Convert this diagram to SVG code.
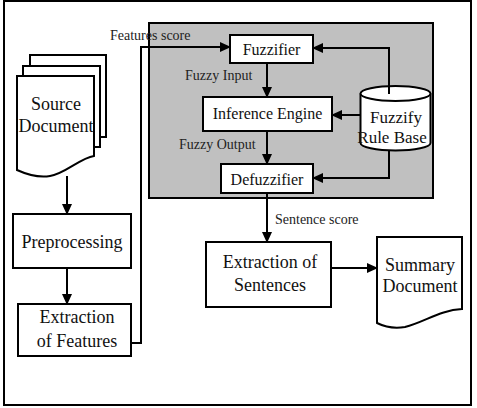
<svg xmlns="http://www.w3.org/2000/svg" width="477" height="408" viewBox="0 0 477 408">
<defs>
<marker id="ah" markerUnits="userSpaceOnUse" markerWidth="11" markerHeight="10" refX="10" refY="5" orient="auto">
<path d="M0,0 L11,5 L0,10 Z" fill="#000"/>
</marker>
<style>
.b{fill:#fff;stroke:#000;stroke-width:2}
.t{font-family:"Liberation Serif","Times New Roman",serif;fill:#111;text-anchor:middle}
.l{font-family:"Liberation Serif","Times New Roman",serif;fill:#222;font-size:14px}
.c{fill:none;stroke:#000;stroke-width:2;marker-end:url(#ah)}
</style>
</defs>
<rect width="477" height="408" fill="#fff"/>
<rect x="4" y="1" width="467" height="404" fill="none" stroke="#000" stroke-width="2"/>
<g id="fuzzy-system">
<rect x="149" y="23" width="284" height="175" fill="#c0c0c0" stroke="#000" stroke-width="2"/>
</g>
<g id="source-document">
<rect class="b" x="30" y="55" width="76" height="82"/>
<rect class="b" x="23" y="66" width="77" height="81"/>
<path class="b" d="M17,76 H94 V156 C80,158 65,174 50,176 C38,178 28,175 17,170 Z"/>
<text class="t" x="56" y="110" font-size="18">Source</text>
<text class="t" x="56" y="132" font-size="18">Document</text>
</g>
<g id="preprocessing">
<rect class="b" x="13" y="214" width="118" height="54"/>
<text class="t" x="72" y="248" font-size="18">Preprocessing</text>
</g>
<g id="extraction-features">
<rect class="b" x="18" y="304" width="113" height="52"/>
<text class="t" x="77" y="323" font-size="18">Extraction</text>
<text class="t" x="77" y="347" font-size="18">of Features</text>
</g>
<g id="fuzzifier">
<rect class="b" x="230" y="35" width="83" height="28"/>
<text class="t" x="271.5" y="55" font-size="16">Fuzzifier</text>
</g>
<g id="inference-engine">
<rect class="b" x="203" y="97" width="129" height="34"/>
<text class="t" x="267.5" y="119" font-size="16">Inference Engine</text>
</g>
<g id="defuzzifier">
<rect class="b" x="221" y="164" width="92" height="29"/>
<text class="t" x="267" y="185" font-size="16">Defuzzifier</text>
</g>
<g id="rule-base">
<path class="b" d="M360.5,93.5 V143 A35,7.5 0 0 0 430.5,143 V93.5"/>
<ellipse class="b" cx="395.5" cy="93.5" rx="35" ry="7.5"/>
<text class="t" x="396" y="123" font-size="17">Fuzzify</text>
<text class="t" x="392" y="143" font-size="17">Rule Base</text>
</g>
<g id="extraction-sentences">
<rect class="b" x="206" y="242" width="125" height="65"/>
<text class="t" x="270" y="268" font-size="18">Extraction of</text>
<text class="t" x="270" y="291" font-size="18">Sentences</text>
</g>
<g id="summary-document">
<path class="b" d="M377,237 H462 V309 C440,310 425,322 405,327 C393,329 385,327 377,323 Z"/>
<text class="t" x="420" y="271" font-size="18">Summary</text>
<text class="t" x="420" y="292" font-size="18">Document</text>
</g>
<g id="connectors">
<path class="c" d="M67,176 V214"/>
<path class="c" d="M67,268 V304"/>
<path class="c" d="M131,343 H141 V47 H230"/>
<path class="c" d="M267,63 V97"/>
<path class="c" d="M267,131 V164"/>
<path class="c" d="M267,193 V242"/>
<path class="c" d="M331,268 H377"/>
<path class="c" d="M389,94 V48 H313"/>
<path class="c" d="M360.5,115 H332"/>
<path class="c" d="M389,150 V178 H313"/>
<text class="l" x="110" y="40">Features score</text>
<text class="l" x="185" y="80">Fuzzy Input</text>
<text class="l" x="179" y="149">Fuzzy Output</text>
<text class="l" x="275" y="224">Sentence score</text>
</g>
</svg>
